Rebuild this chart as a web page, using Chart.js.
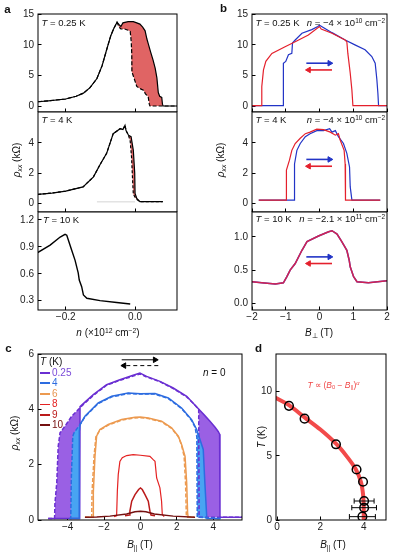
<!DOCTYPE html>
<html>
<head>
<meta charset="utf-8">
<script src="https://cdn.jsdelivr.net/npm/chart.js@4.4.0/dist/chart.umd.min.js"></script>
<style>
  body { margin: 0; background: #fff; width: 393px; height: 557px; position: relative; overflow: hidden;
         font-family: "Liberation Sans", Arial, Helvetica, sans-serif; color: #111; }
  .box { position: absolute; }
  .t { position: absolute; white-space: nowrap; line-height: 1; font-size: 9.5px; transform: translateY(-50%); }
  .tr { transform: translate(-100%, -50%); }
  .tc { transform: translate(-50%, -50%); }
  .rot { transform: translate(-50%, -50%) rotate(-90deg); font-size: 10px; }
  .lab { position: absolute; font-weight: bold; font-size: 11.5px; transform: translate(-50%, -50%); }
  sup, sub { font-size: 68%; line-height: 0; }
  sup { vertical-align: 0.45em; }
  sub { vertical-align: -0.25em; }
  .leg { position: absolute; font-size: 10px; line-height: 1; transform: translateY(-50%); }
  .leg span { display: inline-block; width: 10px; vertical-align: middle; margin-right: 2px; }
</style>
</head>
<body>
<div id="plots"></div>

<script>
// ---------- panel a : rho_xx vs n ----------
const a1Fwd = [[-0.28,0.7],[-0.25,0.85],[-0.2,1.15],[-0.17,1.6],[-0.149,2.1],[-0.13,3.0],[-0.11,4.5],[-0.095,6.6],
  [-0.082,9.2],[-0.07,11.5],[-0.062,12.6],[-0.052,13.7],[-0.046,13.3],[-0.041,13.0],[-0.035,13.6],[-0.02,13.8],
  [-0.005,13.8],[0.005,13.6],[0.014,13.4],[0.022,12.9],[0.029,12.3],[0.034,11.0],[0.038,10.2],[0.045,8.8],
  [0.052,7.5],[0.058,6.2],[0.063,4.6],[0.067,2.2],[0.071,1.6],[0.077,1.4],[0.079,0.3],[0.081,0],[0.121,0]];
const a1Bwd = [[-0.28,0.7],[-0.25,0.85],[-0.2,1.15],[-0.17,1.6],[-0.149,2.1],[-0.13,3.0],[-0.11,4.5],[-0.095,6.6],
  [-0.082,9.2],[-0.07,11.5],[-0.062,12.6],[-0.052,13.7],[-0.046,12.9],[-0.041,12.6],[-0.03,12.6],[-0.02,12.4],
  [-0.014,12.2],[-0.011,10.5],[-0.0095,8.6],[-0.009,5.6],[-0.005,4.9],[0.005,3.2],[0.016,2.8],[0.024,2.6],
  [0.03,2.0],[0.038,1.5],[0.041,0.3],[0.043,0],[0.121,0]];
const a2Fwd = [[-0.28,0.59],[-0.24,0.68],[-0.2,0.81],[-0.15,1.09],[-0.12,1.75],[-0.1,2.6],[-0.082,3.3],[-0.063,4.6],
  [-0.043,4.93],[-0.035,4.87],[-0.029,5.15],[-0.026,4.8],[-0.019,4.5],[-0.0115,4.4],[-0.005,3.5],[-0.001,2.0],
  [0.0,0.66],[0.005,0.33],[0.014,0.12],[0.08,0.12]];
const a2Bwd = [[-0.28,0.59],[-0.24,0.68],[-0.2,0.81],[-0.15,1.09],[-0.12,1.75],[-0.1,2.6],[-0.082,3.3],[-0.063,4.6],
  [-0.043,4.93],[-0.035,4.87],[-0.029,5.15],[-0.026,4.8],[-0.019,4.5],[-0.014,4.1],[-0.01,3.0],[-0.007,1.5],
  [-0.005,0.6],[0.003,0.3],[0.014,0.12],[0.08,0.12]];
const a2Trace = [[-0.11,0.1],[0,0.1]];
const a3Curve = [[-0.281,0.836],[-0.245,0.92],[-0.216,1.01],[-0.202,1.04],[-0.197,1.03],[-0.183,0.865],[-0.173,0.75],
  [-0.166,0.64],[-0.164,0.61],[-0.161,0.53],[-0.154,0.456],[-0.149,0.364],[-0.139,0.327],[-0.101,0.30],
  [-0.053,0.28],[-0.014,0.263]];
const nTicks = [-0.2, 0];
const a1Ticks = [0, 5, 10, 15];
const a2Ticks = [0, 2, 4];
const a3Ticks = [0.3, 0.6, 0.9, 1.2];

// ---------- panel b : rho_xx vs B_perp ----------
const b1Red = [[-2,0.05],[-1.72,0.05],[-1.71,3.2],[-1.66,5.9],[-1.59,7.3],[-1.41,8.6],[-1.02,9.7],[-0.72,10.5],
  [-0.33,11.6],[0,13.0],[0.05,12.6],[0.37,11.9],[0.76,10.8],[0.81,10.5],[0.84,8.6],[0.91,5.4],[0.96,2.6],
  [0.99,0.05],[2,0.05]];
const b1Blue = [[-2,0.05],[-1.07,0.05],[-1.07,7.0],[-1.0,7.3],[-0.92,8.4],[-0.82,8.6],[-0.8,10.3],[-0.72,10.8],
  [-0.52,11.9],[-0.23,12.5],[-0.05,13.0],[0,13.2],[0.37,12.0],[0.76,10.8],[1.05,10.0],[1.35,9.2],[1.55,8.1],
  [1.65,7.0],[1.7,4.3],[1.73,2.1],[1.75,0.05],[2,0.05]];
const b2Red = [[-1.8,0.22],[-0.99,0.22],[-0.98,2.2],[-0.89,2.85],[-0.82,3.5],[-0.72,3.95],[-0.57,4.3],[-0.42,4.6],
  [-0.28,4.7],[-0.08,4.9],[0.12,4.87],[0.32,4.7],[0.47,4.5],[0.56,4.6],[0.61,4.2],[0.73,3.5],[0.76,2.6],
  [0.77,0.22],[1.8,0.22]];
const b2Blue = [[-1.8,0.22],[-0.75,0.22],[-0.74,2.6],[-0.67,3.5],[-0.57,3.95],[-0.42,4.4],[-0.28,4.6],[-0.08,4.8],
  [0.12,4.8],[0.3,4.93],[0.37,4.7],[0.47,4.8],[0.56,4.4],[0.71,3.95],[0.81,3.3],[0.89,2.4],[0.91,1.1],
  [0.96,0.22],[1.8,0.22]];
const b3Curve = [[-2,0.326],[-1.71,0.31],[-1.31,0.29],[-1.07,0.31],[-0.97,0.40],[-0.87,0.50],[-0.72,0.60],
  [-0.52,0.80],[-0.37,0.93],[-0.03,1.015],[0.27,1.08],[0.37,1.095],[0.52,1.045],[0.66,0.93],[0.81,0.80],
  [0.88,0.65],[0.91,0.55],[1.01,0.40],[1.11,0.326],[1.45,0.31],[2,0.34]];
const bTicks = [-2, -1, 0, 1, 2];
const b3Ticks = [0, 0.5, 1.0];
const b1Arrows = { blue: [[-0.39,7.0],[0.3,7.0]], red: [[0.37,5.9],[-0.32,5.9]] };
const b2Arrows = { blue: [[-0.39,2.9],[0.3,2.9]], red: [[0.37,2.45],[-0.32,2.45]] };
const b3Arrows = { blue: [[-0.39,0.70],[0.3,0.70]], red: [[0.37,0.60],[-0.32,0.60]] };

// ---------- panel c : rho_xx vs B_par at n = 0 ----------
const cTemps = ['0.25', '4', '6', '8', '9', '10'];
const c025Fwd = [[-5.07,0.05],[-3.34,0.05],[-3.32,4.1],[-3.05,4.26],[-2.59,4.53],[-1.86,4.89],[-1.13,5.07],
  [-0.4,5.23],[-0.03,5.31],[0.34,5.19],[1.07,5.01],[1.8,4.77],[2.54,4.47],[3.21,4.0],[3.5,3.8],[3.82,3.57],
  [4.1,3.35],[4.27,3.2],[4.35,3.1],[4.37,0.1],[5.58,0.1]];
const c025Bwd = [[-5.07,0.05],[-4.72,0.05],[-4.7,0.6],[-4.6,1.34],[-4.52,2.66],[-4.42,3.15],[-4.15,3.39],
  [-3.78,3.75],[-3.42,3.99],[-3.05,4.23],[-2.59,4.5],[-1.86,4.87],[-1.13,5.05],[-0.4,5.2],[-0.03,5.28],
  [0.34,5.17],[1.07,5.0],[1.8,4.75],[2.54,4.45],[3.0,4.15],[3.2,4.0],[3.22,0.1],[5.58,0.1]];
const c4Fwd = [[-3.9,0.05],[-3.37,0.05],[-3.36,3.2],[-3.32,3.45],[-3.05,3.75],[-2.32,4.23],[-1.58,4.47],
  [-0.67,4.59],[0,4.56],[0.8,4.57],[1.53,4.41],[2.26,4.05],[2.81,3.63],[3.09,3.27],[3.27,2.91],[3.45,2.55],
  [3.54,1.34],[3.64,0.14],[3.66,0.05],[4.4,0.05]];
const c4Bwd = [[-3.9,0.05],[-3.83,0.05],[-3.8,1.5],[-3.72,3.03],[-3.65,3.15],[-3.32,3.45],[-3.05,3.73],
  [-2.32,4.21],[-1.58,4.45],[-0.67,4.57],[0,4.55],[0.8,4.55],[1.53,4.39],[2.26,4.03],[2.81,3.6],[3.0,3.35],
  [3.1,3.0],[3.12,0.1],[4.4,0.05]];
const c6Fwd = [[-3.05,0.1],[-2.6,0.1],[-2.59,1.0],[-2.5,2.3],[-2.41,3.03],[-2.23,3.27],[-1.77,3.45],[-1.03,3.63],
  [-0.3,3.71],[0,3.72],[0.43,3.69],[1.16,3.57],[1.71,3.33],[2.08,3.03],[2.26,2.73],[2.45,2.3],[2.54,1.34],
  [2.59,0.26],[2.62,0.1],[2.95,0.1]];
const c6Bwd = [[-3.05,0.1],[-2.68,0.1],[-2.66,1.0],[-2.55,2.3],[-2.45,3.0],[-2.23,3.25],[-1.77,3.43],[-1.03,3.61],
  [-0.3,3.69],[0,3.7],[0.43,3.67],[1.16,3.55],[1.71,3.31],[2.08,3.01],[2.26,2.7],[2.4,2.3],[2.48,1.3],
  [2.52,0.2],[2.55,0.1],[2.95,0.1]];
const c8 = [[-1.45,0.12],[-1.31,0.15],[-1.27,1.04],[-1.22,1.64],[-1.13,2.12],[-1.0,2.25],[-0.76,2.33],[-0.4,2.36],
  [0,2.34],[0.52,2.3],[0.70,2.18],[0.8,2.12],[0.89,1.52],[1.07,1.16],[1.16,0.68],[1.2,0.2],[1.3,0.12]];
const c9 = [[-0.85,0.15],[-0.6,0.18],[-0.58,0.32],[-0.48,0.68],[-0.3,0.92],[-0.1,1.1],[0,1.16],[0.1,1.1],
  [0.25,0.92],[0.43,0.68],[0.52,0.32],[0.58,0.18],[0.8,0.15]];
const c10 = [[-3.05,0.1],[-2.4,0.11],[-1.68,0.14],[-0.76,0.22],[-0.3,0.3],[0,0.32],[0.3,0.3],[0.76,0.22],
  [1.8,0.14],[3.0,0.1]];
const cArrowSolid = [[-1.03,5.79],[0.8,5.79]];
const cArrowDash = [[0.98,5.58],[-0.9,5.58]];
const cXTicks = [-4, -2, 0, 2, 4];
const cYTicks = [0, 2, 4, 6];

// ---------- panel d : T vs B_par ----------
const dB = [0.55, 1.27, 2.72, 3.67, 3.97, 4.02, 4.02, 3.94];
const dT = [8.9, 7.9, 5.9, 3.94, 2.98, 1.48, 0.96, 0.26];
const dErr = [0, 0, 0, 0, 0, 0.46, 0.57, 0.6];
const dFitB = [-0.1, 0.55, 1.27, 2.0, 2.72, 3.2, 3.64, 3.87, 3.97, 4.0, 4.0];
const dFitT = [9.55, 8.95, 8.0, 7.05, 5.95, 5.0, 3.94, 2.98, 2.0, 1.0, 0];
const dXTicks = [0, 2, 4];
const dYTicks = [0, 5, 10];

// ---------- helpers ----------
const FONT = 'Liberation Sans, Arial, Helvetica, sans-serif';
const PT = 8, PR = 10;
const xy = arr => arr.map(([x, y]) => ({ x, y }));
const within = (arr, lo, hi) => arr.filter(p => p[0] >= lo && p[0] <= hi);
const lobe = (outer, inner, lo, hi) => xy(within(outer, lo, hi).concat(within(inner, lo, hi).reverse()));
const fmt = d => v => (v < 0 ? '\u2212' : '') + Math.abs(v).toFixed(d);

const frame = {
  id: 'frame',
  afterDatasetsDraw(chart) {
    const a = chart.chartArea, g = chart.ctx;
    g.save();
    g.strokeStyle = '#000';
    g.lineWidth = 1;
    g.strokeRect(a.left, a.top, a.right - a.left, a.bottom - a.top);
    g.restore();
  }
};

function axis(range, ticks, dir, size, labels, format) {
  return {
    type: 'linear', min: range[0], max: range[1],
    afterBuildTicks: s => { s.ticks = ticks.map(v => ({ value: v })); },
    afterFit: s => {
      if (dir === 'x') { s.height = size; s.paddingLeft = 0; s.paddingRight = 0; }
      else { s.width = size; s.paddingTop = 0; s.paddingBottom = 0; }
    },
    border: { display: false },
    grid: { drawOnChartArea: false, drawTicks: true, tickLength: -3.5, color: '#000', lineWidth: 1 },
    ticks: { display: labels, autoSkip: false, maxRotation: 0, padding: dir === 'x' ? 5 : 7.5,
             color: '#222', font: { family: FONT, size: 10 }, callback: format }
  };
}

function plot(o) {
  const f = o.frame;
  const div = document.createElement('div');
  div.className = 'box';
  div.style.left = (f.l - o.yw) + 'px';
  div.style.top = (f.t - PT) + 'px';
  div.style.width = (f.r - f.l + o.yw + PR) + 'px';
  div.style.height = (f.b - f.t + PT + o.xh) + 'px';
  const cv = document.createElement('canvas');
  div.appendChild(cv);
  document.getElementById('plots').appendChild(div);
  return new Chart(cv, {
    type: 'line',
    data: { datasets: o.datasets },
    options: {
      responsive: true, maintainAspectRatio: false, animation: false, events: [],
      layout: { autoPadding: false, padding: { top: PT, right: PR, left: 0, bottom: 0 } },
      plugins: { legend: { display: false }, tooltip: { enabled: false } },
      elements: { point: { radius: 0 }, line: { borderWidth: 1.2, tension: 0 } },
      scales: {
        x: axis(o.x, o.xt, 'x', o.xh, o.xh > 0, o.xf),
        y: axis(o.y, o.yt, 'y', o.yw, true, o.yf)
      }
    },
    plugins: [frame]
  });
}

const line = (data, color, extra) => Object.assign({ data: xy(data), borderColor: color, borderWidth: 1.2, fill: false }, extra || {});
const area = (pts, color, order) => ({ data: pts, borderWidth: 0, borderColor: 'rgba(0,0,0,0)', backgroundColor: color, fill: 'shape', order });
const arrow = (pts, color, dir, extra) => Object.assign({
  data: xy(pts), borderColor: color, borderWidth: 1.6, fill: false,
  pointRadius: [0, 3.2], pointStyle: 'triangle', pointRotation: [0, dir > 0 ? 90 : -90],
  pointBackgroundColor: color, pointBorderColor: color, pointBorderWidth: 1, order: 0
}, extra || {});

const RED = '#e4202c', BLUE = '#2234c6';

// panel a
const aX = [-0.28, 0.121];
plot({ frame: { l: 38, r: 177, t: 14, b: 112 }, yw: 38, xh: 0, x: aX, y: [-0.98, 15.05], xt: nTicks, yt: a1Ticks,
  xf: fmt(1), yf: fmt(0), datasets: [
    line(a1Fwd, '#000', { order: 1 }),
    line(a1Bwd, '#000', { borderDash: [4, 2], order: 2 }),
    area(lobe(a1Fwd, a1Bwd, -0.052, 0.121), '#e06464', 5)
  ] });
plot({ frame: { l: 38, r: 177, t: 112, b: 212 }, yw: 38, xh: 0, x: aX, y: [-0.57, 6.03], xt: nTicks, yt: a2Ticks,
  xf: fmt(1), yf: fmt(0), datasets: [
    line(a2Fwd, '#000', { order: 1 }),
    line(a2Bwd, '#000', { borderDash: [3, 2], order: 2 }),
    line(a2Trace, '#d4d4d4', { borderWidth: 1, order: 3 }),
    area(lobe(a2Fwd, a2Bwd, -0.026, 0.014), '#e06464', 5)
  ] });
plot({ frame: { l: 38, r: 177, t: 212, b: 310 }, yw: 38, xh: 22, x: aX, y: [0.196, 1.289], xt: nTicks, yt: a3Ticks,
  xf: fmt(1), yf: fmt(1), datasets: [ line(a3Curve, '#000', { borderWidth: 1.4 }) ] });

// panel b
const bX = [-2, 2];
const bSet = (red, blue, arr) => [
  arrow(arr.blue, BLUE, 1), arrow(arr.red, RED, -1),
  line(red, RED, { order: 1 }), line(blue, BLUE, { order: 2 })
];
plot({ frame: { l: 252, r: 387, t: 14, b: 112 }, yw: 40, xh: 0, x: bX, y: [-0.98, 15.05], xt: bTicks, yt: a1Ticks,
  xf: fmt(0), yf: fmt(0), datasets: bSet(b1Red, b1Blue, b1Arrows) });
plot({ frame: { l: 252, r: 387, t: 112, b: 212 }, yw: 40, xh: 0, x: bX, y: [-0.57, 6.03], xt: bTicks, yt: a2Ticks,
  xf: fmt(0), yf: fmt(0), datasets: bSet(b2Red, b2Blue, b2Arrows) });
plot({ frame: { l: 252, r: 387, t: 212, b: 310 }, yw: 40, xh: 22, x: bX, y: [-0.101, 1.377], xt: bTicks, yt: b3Ticks,
  xf: fmt(0), yf: fmt(1), datasets: [
    arrow(b3Arrows.blue, BLUE, 1), arrow(b3Arrows.red, RED, -1),
    line(b3Curve, 'rgba(228,32,70,0.9)', { borderWidth: 1.5, order: 1 }),
    line(b3Curve, BLUE, { borderWidth: 1.5, order: 2 })
  ] });

// panel c
const cCol = { p: '#6a2fd2', pf: '#9a60e4', b: '#2d6ce0', bf: '#48a4f2', o: '#ec9a50', r: '#e42222', dr: '#bb1a1a', mr: '#741010' };
plot({ frame: { l: 38, r: 242, t: 354, b: 520 }, yw: 38, xh: 22, x: [-5.63, 5.58], y: [0, 6], xt: cXTicks, yt: cYTicks,
  xf: fmt(0), yf: fmt(0), datasets: [
    arrow(cArrowSolid, '#000', 1, { borderWidth: 1 }),
    arrow(cArrowDash, '#000', -1, { borderWidth: 1, borderDash: [4, 3] }),
    line(c10, cCol.mr, { borderWidth: 1.5, order: 1 }),
    line(c9, cCol.dr, { borderWidth: 1.5, order: 1 }),
    line(c8, cCol.r, { borderWidth: 1.2, order: 1 }),
    line(c6Bwd, cCol.o, { borderWidth: 1.5, borderDash: [4, 2], order: 2 }),
    line(c6Fwd, cCol.o, { borderWidth: 1.5, order: 2 }),
    line(c4Bwd, cCol.b, { borderWidth: 1.5, borderDash: [4, 2], order: 3 }),
    line(c4Fwd, cCol.b, { borderWidth: 1.5, order: 3 }),
    line(c025Bwd, cCol.p, { borderWidth: 1.5, borderDash: [4, 2], order: 4 }),
    line(c025Fwd, cCol.p, { borderWidth: 1.5, order: 4 }),
    area(lobe(c4Bwd, c4Fwd, -3.85, -3.3), cCol.bf, 8),
    area(lobe(c4Fwd, c4Bwd, 3.05, 3.7), cCol.bf, 8),
    area(lobe(c025Bwd, c025Fwd, -4.75, -3.0), cCol.pf, 9),
    area(lobe(c025Fwd, c025Bwd, 3.19, 4.4), cCol.pf, 9)
  ] });

// panel d
const dPts = dB.map((b, i) => [b, dT[i]]);
const dFit = dFitB.map((b, i) => [b, dFitT[i]]);
const errSets = dB.map((b, i) => dErr[i] > 0 ? {
  data: xy([[b - dErr[i], dT[i]], [b + dErr[i], dT[i]]]), borderColor: '#000', borderWidth: 1, fill: false,
  pointStyle: 'line', pointRotation: 90, pointRadius: 2.6, pointBorderColor: '#000', pointBorderWidth: 1, order: 1
} : null).filter(Boolean);
plot({ frame: { l: 276, r: 386, t: 354, b: 520 }, yw: 24, xh: 22, x: [-0.05, 5.03], y: [0, 12.94], xt: dXTicks, yt: dYTicks,
  xf: fmt(0), yf: fmt(0), datasets: [
    { data: xy(dPts), showLine: false, pointRadius: 4.3, pointBorderWidth: 1.5, pointBorderColor: '#000',
      pointBackgroundColor: 'rgba(255,255,255,0)', order: 0 },
    ...errSets,
    line(dFit, '#f24a4a', { borderWidth: 4, tension: 0.35, order: 3 })
  ] });
</script>

<!-- axis titles and annotations -->
<div class="lab" style="left:7.5px;top:8.5px">a</div>
<div class="lab" style="left:223.5px;top:7.5px">b</div>
<div class="lab" style="left:8.5px;top:348px">c</div>
<div class="lab" style="left:258.5px;top:348px">d</div>

<div class="t rot" style="left:17px;top:160px"><i>ρ</i><sub><i>xx</i></sub> (kΩ)</div>
<div class="t rot" style="left:221px;top:160px"><i>ρ</i><sub><i>xx</i></sub> (kΩ)</div>
<div class="t rot" style="left:15px;top:433px"><i>ρ</i><sub><i>xx</i></sub> (kΩ)</div>
<div class="t rot" style="left:262px;top:437px"><i>T</i> (K)</div>

<div class="t tc" style="left:108px;top:333px;font-size:10px"><i>n</i> (×10<sup>12</sup> cm<sup>−2</sup>)</div>
<div class="t tc" style="left:319px;top:333px;font-size:10px"><i>B</i><sub>⊥</sub> (T)</div>
<div class="t tc" style="left:140px;top:545px;font-size:10px"><i>B</i><sub>||</sub> (T)</div>
<div class="t tc" style="left:333px;top:545px;font-size:10px"><i>B</i><sub>||</sub> (T)</div>

<div class="t" style="left:41.5px;top:22.5px"><i>T</i> = 0.25 K</div>
<div class="t" style="left:41.5px;top:119.5px"><i>T</i> = 4 K</div>
<div class="t" style="left:43px;top:220px"><i>T</i> = 10 K</div>

<div class="t" style="left:255.5px;top:22.5px"><i>T</i> = 0.25 K</div>
<div class="t tr" style="left:385px;top:22.5px"><i>n</i> = −4 × 10<sup>10</sup> cm<sup>−2</sup></div>
<div class="t" style="left:255.5px;top:119.5px"><i>T</i> = 4 K</div>
<div class="t tr" style="left:385px;top:119.5px"><i>n</i> = −4 × 10<sup>10</sup> cm<sup>−2</sup></div>
<div class="t" style="left:255.5px;top:218.5px"><i>T</i> = 10 K</div>
<div class="t tr" style="left:385px;top:218.5px"><i>n</i> = −2.1 × 10<sup>11</sup> cm<sup>−2</sup></div>

<div class="t" style="left:203px;top:373px;font-size:10px"><i>n</i> = 0</div>
<div class="t" style="left:307.5px;top:384.5px;font-size:8.5px;color:#f04848"><i>T</i> ∝ (<i>B</i><sub>0</sub> − <i>B</i><sub>||</sub>)<sup><i>α</i></sup></div>

<div class="leg" style="left:40px;top:361.5px"><i>T</i> (K)</div>
<div class="leg" style="left:40px;top:372.5px;color:#7a4ad8"><span style="border-top:2.5px solid #6a2fd2"></span>0.25</div>
<div class="leg" style="left:40px;top:383px;color:#2d6ce0"><span style="border-top:2.5px solid #2d6ce0"></span>4</div>
<div class="leg" style="left:40px;top:393.5px;color:#e89550"><span style="border-top:2.5px solid #ec9a50"></span>6</div>
<div class="leg" style="left:40px;top:404px;color:#e42222"><span style="border-top:1.3px solid #e42222"></span>8</div>
<div class="leg" style="left:40px;top:414.5px;color:#bb1a1a"><span style="border-top:2.5px solid #bb1a1a"></span>9</div>
<div class="leg" style="left:40px;top:425px;color:#741010"><span style="border-top:2.5px solid #741010"></span>10</div>
</body>
</html>
